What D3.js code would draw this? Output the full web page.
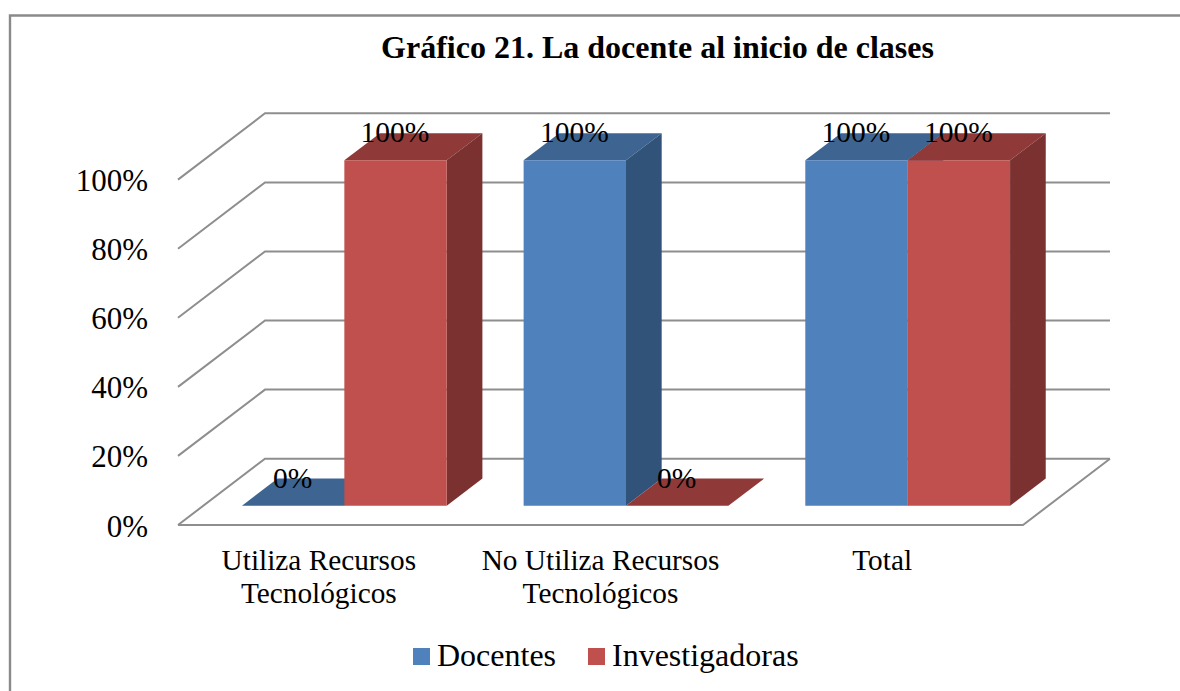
<!DOCTYPE html>
<html><head><meta charset="utf-8">
<script src="https://cdn.jsdelivr.net/npm/d3@7"></script>
<style>html,body{margin:0;padding:0;background:#fff}svg{display:block}text{font-family:"Liberation Serif",serif;fill:#000}</style>
</head><body><svg id="c" width="1180" height="691"></svg>
<script>
const categories = [["Utiliza Recursos","Tecnológicos"],["No Utiliza Recursos","Tecnológicos"],["Total"]];
const seriesNames = ["Docentes","Investigadoras"];
const docentes = [0,100,100];
const investigadoras = [100,0,100];
const ticks = [0,20,40,60,80,100];
const titleText = "Gráfico 21. La docente al inicio de clases";
const colors = {Docentes:{front:"#4f81bd",top:"#3e6491",side:"#31537a"},Investigadoras:{front:"#c0504d",top:"#8f3a38",side:"#7a3130"}};

const svg = d3.select("#c");
svg.append("path").attr("d","M10,691V15.5H1180").attr("fill","none").attr("stroke","#8a8a8a").attr("stroke-width",2.4);

// oblique projection: front plane x/y plus depth offset
const x = d3.scaleLinear().domain([0,3]).range([178,1023]);
const y = d3.scaleLinear().domain([0,100]).range([525,179.6]);
const depthX = d3.scaleLinear().domain([0,1]).range([0,87]);
const depthY = d3.scaleLinear().domain([0,1]).range([0,-66.3]);
const P = (cx,v,d)=>[x(cx)+depthX(d), y(v)+depthY(d)];
const poly = pts => "M"+pts.map(p=>p.join(",")).join("L")+"Z";

const grid = svg.append("g").attr("fill","none").attr("stroke","#8e8e8e").attr("stroke-width",2);
ticks.forEach(t=>{
  grid.append("path").attr("d",d3.line()([P(0,t,0),P(0,t,1),P(3,t,1)]));
});
grid.append("path").attr("d",d3.line()([P(0,0,0),P(3,0,0),P(3,0,1)]));

svg.append("g").selectAll("text").data(ticks).join("text")
  .attr("x",148).attr("y",d=>y(d)+11.5).attr("text-anchor","end")
  .attr("font-size",31).text(d=>d+"%");

const d0=0.29,d1=0.70,barW=0.3635;
const rows=[];
categories.forEach((c,i)=>{
  rows.push({s:"Docentes",i,v:docentes[i],x0:i+0.5-barW+0.001,x1:i+0.5+0.001});
  rows.push({s:"Investigadoras",i,v:investigadoras[i],x0:i+0.5+0.001,x1:i+0.5+barW+0.001});
});
const barG=svg.append("g");
rows.forEach(r=>{
  const c=colors[r.s];
  barG.append("path").attr("fill",c.top).attr("d",poly([P(r.x0,r.v,d0),P(r.x1,r.v,d0),P(r.x1,r.v,d1),P(r.x0,r.v,d1)]));
  if(r.v>0){
    barG.append("path").attr("fill",c.side).attr("d",poly([P(r.x1,0,d0),P(r.x1,r.v,d0),P(r.x1,r.v,d1),P(r.x1,0,d1)]));
    barG.append("path").attr("fill",c.front).attr("d",poly([P(r.x0,0,d0),P(r.x1,0,d0),P(r.x1,r.v,d0),P(r.x0,r.v,d0)]));
  }
});
svg.append("g").selectAll("text").data(rows).join("text")
  .attr("x",d=>(P(d.x0,0,d0)[0]+P(d.x1,0,d0)[0])/2-0.5)
  .attr("y",d=>P(0,d.v,d0)[1]-18)
  .attr("text-anchor","middle").attr("font-size",29.5).text(d=>d.v+"%");

svg.append("text").attr("x",657.5).attr("y",58).attr("text-anchor","middle")
  .attr("font-size",32).attr("font-weight","bold").text(titleText);

categories.forEach((c,i)=>{
  c.forEach((line,k)=>{
    svg.append("text").attr("x",x(i+0.5)).attr("y",570+k*33).attr("text-anchor","middle")
      .attr("font-size",29.3).text(line);
  });
});

const legendX={Docentes:[413,437],Investigadoras:[588,612]};
seriesNames.forEach(s=>{
  svg.append("rect").attr("x",legendX[s][0]).attr("y",648).attr("width",17).attr("height",17).attr("fill",colors[s].front);
  svg.append("text").attr("x",legendX[s][1]).attr("y",666).attr("font-size",32).text(s);
});
</script></body></html>
